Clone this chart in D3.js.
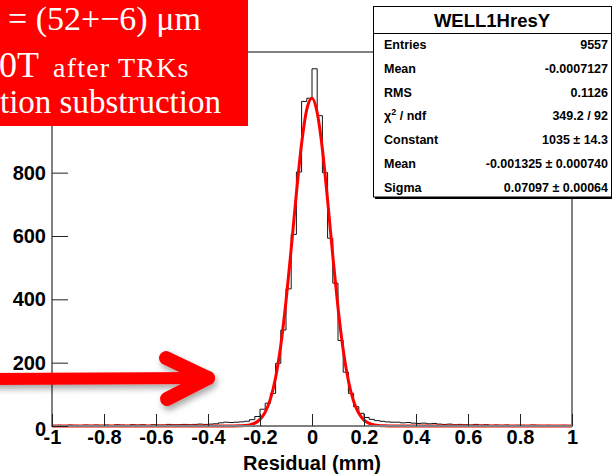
<!DOCTYPE html>
<html>
<head>
<meta charset="utf-8">
<script src="https://cdn.jsdelivr.net/npm/d3@7"></script>
<style>
  body { margin: 0; background: #fff; }
  svg { display: block; }
</style>
</head>
<body>
<div id="chart"></div>
<script>
// histogram: 100 bins from -1 to 1
var binStart = -1;
var binStep = 0.02;
var counts = [
  // -1.00 .. -0.30
  1, 2, 0, 3, 2, 1, 3, 2, 3, 2, 3, 1, 4, 3, 2, 4, 3, 4, 2, 4,
  3, 3, 5, 4, 4, 5, 4, 5, 6, 5, 6, 7, 10, 12, 11,
  // -0.30 .. 0.30
  12, 13, 15, 20, 30, 53, 72, 103, 198, 303,
  433, 605, 802, 1025, 1035, 1128, 980, 800, 593, 451,
  270, 170, 103, 61, 40, 27, 21, 17, 15, 13,
  // 0.30 .. 1.00
  12, 12, 10, 11, 9, 8, 9, 7, 8, 6, 5, 6, 4, 5, 4, 3, 5, 3, 4, 2,
  3, 2, 3, 1, 2, 2, 1, 3, 2, 1, 2, 1, 1, 2, 1
];

// gaussian fit curve
var fitX = [-1, -0.5, -0.3, -0.28, -0.26, -0.24, -0.22, -0.2, -0.18, -0.16, -0.14, -0.12, -0.1,
  -0.08, -0.06, -0.04, -0.02, 0, 0.02, 0.04, 0.06, 0.08, 0.1, 0.12, 0.14, 0.16, 0.18, 0.2,
  0.22, 0.24, 0.26, 0.28, 0.3, 0.5, 1];
var fitY = [0, 0, 0.2, 0.5, 1.4, 3.6, 9, 21, 44, 85, 153, 255, 394,
  560, 735, 892, 1000, 1035, 989, 874, 713, 537, 374, 240, 143, 78, 40, 18.5,
  8, 3.2, 1.2, 0.4, 0.1, 0, 0];

var xMajor = [-1, -0.8, -0.6, -0.4, -0.2, 0, 0.2, 0.4, 0.6, 0.8, 1];
var yMajor = [0, 200, 400, 600, 800, 1000];

var statsTitle = 'WELL1HresY';
var statsLabels = ['Entries', 'Mean', 'RMS', 'chi2', 'Constant', 'Mean', 'Sigma'];
var statsValues = ['9557', '-0.0007127', '0.1126', '349.2 / 92', '1035 \u00b1 14.3',
  '-0.001325 \u00b1 0.000740', '0.07097 \u00b1 0.00064'];

var xTitle = 'Residual (mm)';

var W = 612, H = 474;
var plot = { left: 52, right: 572, top: 52, bottom: 426 };

var svg = d3.select('#chart').append('svg').attr('width', W).attr('height', H);

var defs = svg.append('defs');
var shadow = defs.append('filter').attr('id', 'shadow')
  .attr('x', '-20%').attr('y', '-40%').attr('width', '140%').attr('height', '200%');
shadow.append('feDropShadow').attr('dx', 2).attr('dy', 4).attr('stdDeviation', 3)
  .attr('flood-color', '#000').attr('flood-opacity', 0.35);

var x = d3.scaleLinear().domain([-1, 1]).range([plot.left, plot.right]);
var y = d3.scaleLinear().domain([0, 1181]).range([plot.bottom, plot.top]);

// histogram outline as steps
var steps = [[binStart, 0]];
counts.forEach(function(c, i) {
  var x0 = binStart + i * binStep;
  steps.push([x0, c]);
  steps.push([x0 + binStep, c]);
});
steps.push([binStart + counts.length * binStep, 0]);

var line = d3.line().x(function(d) { return x(d[0]); }).y(function(d) { return y(d[1]); });

svg.append('path')
  .attr('d', line(steps))
  .attr('fill', 'none')
  .attr('stroke', '#111')
  .attr('stroke-width', 1);

var fitLine = d3.line()
  .x(function(d, i) { return x(fitX[i]); })
  .y(function(d) { return y(d); })
  .curve(d3.curveMonotoneX);

svg.append('path')
  .attr('d', fitLine(fitY))
  .attr('fill', 'none')
  .attr('stroke', '#ff0000')
  .attr('stroke-width', 3);

// frame
svg.append('rect')
  .attr('x', plot.left).attr('y', plot.top)
  .attr('width', plot.right - plot.left).attr('height', plot.bottom - plot.top)
  .attr('fill', 'none').attr('stroke', '#808080').attr('stroke-width', 2);

var fmt = function(d) { return String(+d.toFixed(1)); };

var xMinor = d3.range(-20, 21).map(function(k) { return k * 0.05; });
var yMinor = d3.range(0, 24).map(function(k) { return k * 50; });

var gx = svg.append('g').attr('transform', 'translate(0,' + plot.bottom + ')');
gx.call(d3.axisBottom(x).tickValues(xMinor).tickSize(-6).tickFormat(''));
gx.call(d3.axisBottom(x).tickValues(xMajor).tickSize(-12).tickPadding(4).tickFormat(fmt));

var gy = svg.append('g').attr('transform', 'translate(' + plot.left + ',0)');
gy.call(d3.axisLeft(y).tickValues(yMinor).tickSize(-8).tickFormat(''));
gy.call(d3.axisLeft(y).tickValues(yMajor).tickSize(-16).tickPadding(6).tickFormat(d3.format('d')));

svg.selectAll('.domain').remove();
svg.selectAll('.tick line').attr('stroke', '#222');
svg.selectAll('.tick text')
  .attr('font-family', 'Liberation Sans, Arial, sans-serif')
  .attr('font-weight', 'bold')
  .attr('font-size', 20)
  .attr('fill', '#000');
gy.selectAll('.tick text').filter(function(d) { return d === 0; }).attr('dy', '0.45em');

svg.append('text')
  .attr('x', (plot.left + plot.right) / 2).attr('y', 470)
  .attr('text-anchor', 'middle')
  .attr('font-family', 'Liberation Sans, Arial, sans-serif')
  .attr('font-weight', 'bold').attr('font-size', 20)
  .text(xTitle);

// stats box
var sb = svg.append('g');
sb.append('rect').attr('x', 375).attr('y', 196).attr('width', 237).attr('height', 3).attr('fill', '#000');
sb.append('rect').attr('x', 373.5).attr('y', 6.5).attr('width', 238).attr('height', 190.5)
  .attr('fill', '#fff').attr('stroke', '#000').attr('stroke-width', 1);
sb.append('line').attr('x1', 373.5).attr('x2', 611.5).attr('y1', 33.5).attr('y2', 33.5)
  .attr('stroke', '#000');
sb.append('text').attr('x', 492).attr('y', 27).attr('text-anchor', 'middle')
  .attr('font-family', 'Liberation Sans, Arial, sans-serif')
  .attr('font-weight', 'bold').attr('font-size', 18.5).text(statsTitle);

var rowY = [44, 68, 92, 115, 139, 163, 187];
statsLabels.forEach(function(lab, i) {
  var t = sb.append('text').attr('x', 384).attr('y', rowY[i] + 4.5)
    .attr('font-family', 'Liberation Sans, Arial, sans-serif')
    .attr('font-weight', 'bold').attr('font-size', 12.5);
  if (lab === 'chi2') {
    t.append('tspan').text('\u03c7');
    t.append('tspan').attr('font-size', 9).attr('dy', -5).text('2');
    t.append('tspan').attr('dy', 5).text(' / ndf');
  } else {
    t.text(lab);
  }
  sb.append('text').attr('x', 608).attr('y', rowY[i] + 4.5).attr('text-anchor', 'end')
    .attr('font-family', 'Liberation Sans, Arial, sans-serif')
    .attr('font-weight', 'bold').attr('font-size', 12.5).text(statsValues[i]);
});

// red annotation box
var rb = svg.append('g');
rb.append('rect').attr('x', 0).attr('y', 0).attr('width', 248).attr('height', 126).attr('fill', '#ff0000');
var serif = 'Liberation Serif, Times New Roman, serif';
rb.append('text').attr('x', 8).attr('y', 30).attr('fill', '#fff')
  .attr('font-family', serif).attr('font-size', 34).text('= (52+\u22126) \u03bcm');
var l2 = rb.append('text').attr('x', -1).attr('y', 77).attr('fill', '#fff').attr('font-family', serif);
l2.append('tspan').attr('font-size', 36).text('0T');
l2.append('tspan').attr('x', 53).attr('font-size', 28).attr('letter-spacing', 1.2).text('after TRKs');
rb.append('text').attr('x', 0).attr('y', 113).attr('fill', '#fff')
  .attr('font-family', serif).attr('font-size', 33).text('tion substruction');

// arrow
var arrow = svg.append('g').attr('filter', 'url(#shadow)')
  .attr('stroke', '#ff0000').attr('stroke-linecap', 'round').attr('fill', 'none');
arrow.append('line').attr('x1', -10).attr('y1', 379).attr('x2', 205).attr('y2', 378).attr('stroke-width', 12);
arrow.append('line').attr('x1', 166).attr('y1', 358).attr('x2', 208).attr('y2', 378).attr('stroke-width', 14);
arrow.append('line').attr('x1', 167).attr('y1', 399).attr('x2', 208).attr('y2', 378).attr('stroke-width', 14);
</script>
</body>
</html>
